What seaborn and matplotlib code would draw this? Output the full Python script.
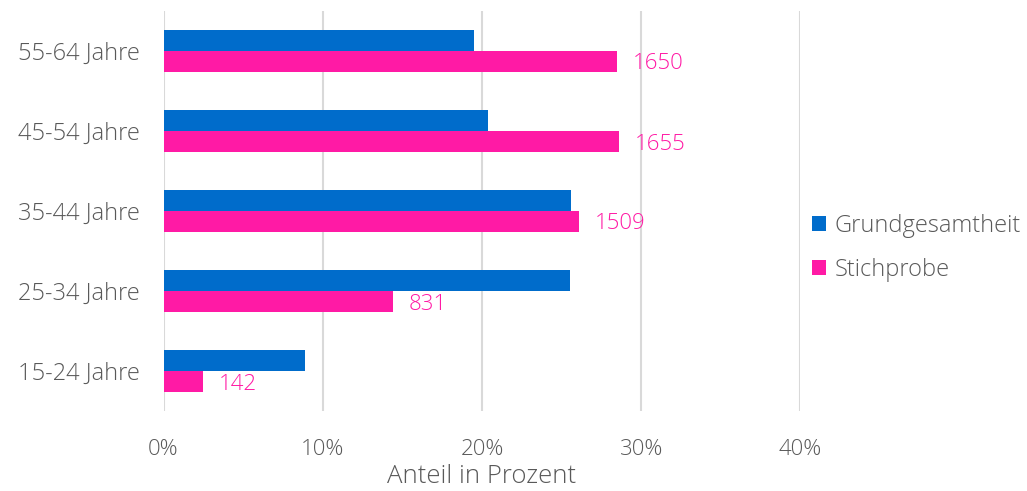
import matplotlib
matplotlib.use("Agg")
import matplotlib.pyplot as plt
from matplotlib.patches import Patch
import seaborn as sns
import pandas as pd

categories = ["55-64 Jahre", "45-54 Jahre", "35-44 Jahre", "25-34 Jahre", "15-24 Jahre"]
grundgesamtheit = [19.5, 20.4, 25.6, 25.5, 8.9]
stichprobe = [28.5, 28.6, 26.1, 14.4, 2.45]
counts = ["1650", "1655", "1509", "831", "142"]
series = ["Grundgesamtheit", "Stichprobe"]
xticks = [0, 10, 20, 30, 40]
xticklabels = ["0%", "10%", "20%", "30%", "40%"]

blue = "#006CCB"
pink = "#FF1AA5"
gray = "#595959"
W = "light"

df = pd.DataFrame({
    "Kategorie": categories * 2,
    "Wert": grundgesamtheit + stichprobe,
    "Serie": [series[0]] * len(categories) + [series[1]] * len(categories),
})

sns.set_theme(style="white")
plt.rcParams["font.family"] = ["Open Sans", "DejaVu Sans"]

fig = plt.figure(figsize=(10.27, 4.91), dpi=100)
ax = fig.add_axes([163.5 / 1027, 1 - 411 / 491, (800.5 - 163.5) / 1027, 400 / 491])

sns.barplot(data=df, y="Kategorie", x="Wert", hue="Serie", order=categories,
            hue_order=series, palette=[blue, pink], orient="h", width=0.53,
            saturation=1, linewidth=0, ax=ax, legend=False)

ax.set_xlim(0, 40)
ax.set_ylim(4.5, -0.5)
ax.set_xticks(xticks)
ax.set_xticklabels(xticklabels, fontsize=16, color=gray, fontweight=W)
ax.tick_params(axis="x", length=0, pad=20)
ax.tick_params(axis="y", length=0, pad=17, labelsize=17, labelcolor=gray)
for t in ax.get_yticklabels():
    t.set_fontweight(W)
ax.set_ylabel("")
ax.set_xlabel("Anteil in Prozent", fontsize=18.5, color=gray, labelpad=3, fontweight=W)
ax.xaxis.grid(True, color="#D9D9D9", linewidth=1.5)
ax.set_axisbelow(True)
for s in ax.spines.values():
    s.set_visible(False)

# data labels for Stichprobe
pink_bars = ax.containers[1]
for bar, lab in zip(pink_bars, counts):
    ax.text(bar.get_width() + 1.0, bar.get_y() + bar.get_height() / 2 + 0.03, lab,
            color=pink, fontsize=16, va="center", ha="left", fontweight=W)

handles = [Patch(facecolor=blue, edgecolor="none"), Patch(facecolor=pink, edgecolor="none")]
leg = fig.legend(handles, series, loc="center left", bbox_to_anchor=(791 / 1027, 1 - 248 / 491),
                 frameon=False, fontsize=17, handlelength=0.6, handleheight=0.6,
                 handletextpad=0.35, labelspacing=0.85, labelcolor=gray)
for t in leg.get_texts():
    t.set_fontweight(W)

fig.savefig("out.png", dpi=100)
